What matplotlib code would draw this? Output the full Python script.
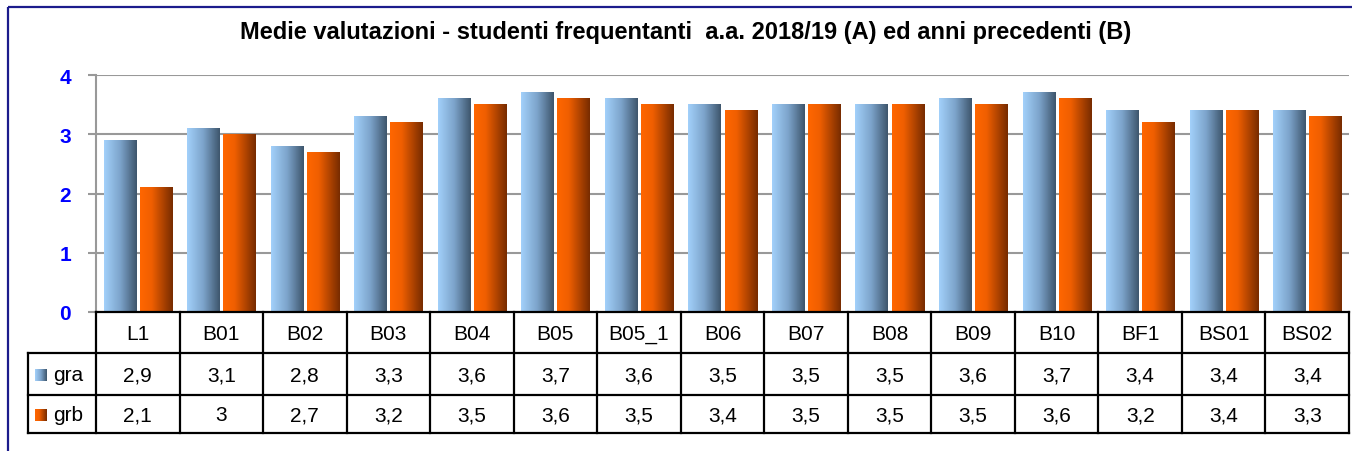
import numpy as np
import matplotlib
matplotlib.use("Agg")
import matplotlib.pyplot as plt
from matplotlib.colors import LinearSegmentedColormap
from matplotlib.patches import Rectangle

plt.rcParams['font.family'] = ['Liberation Sans', 'DejaVu Sans']

# data
categories = ['L1', 'B01', 'B02', 'B03', 'B04', 'B05', 'B05_1', 'B06',
              'B07', 'B08', 'B09', 'B10', 'BF1', 'BS01', 'BS02']
gra = [2.9, 3.1, 2.8, 3.3, 3.6, 3.7, 3.6, 3.5, 3.5, 3.5, 3.6, 3.7, 3.4, 3.4, 3.4]
grb = [2.1, 3.0, 2.7, 3.2, 3.5, 3.6, 3.5, 3.4, 3.5, 3.5, 3.5, 3.6, 3.2, 3.4, 3.3]
series_names = ['gra', 'grb']
title = 'Medie valutazioni - studenti frequentanti  a.a. 2018/19 (A) ed anni precedenti (B)'
yticks = [0, 1, 2, 3, 4]

cmap_a = LinearSegmentedColormap.from_list('a', ['#A2D0FA', '#7CA3CA', '#3E566D'])
cmap_b = LinearSegmentedColormap.from_list('b', [(0, '#FF6600'), (0.35, '#F05F00'), (1, '#782C00')])
grad = np.linspace(0, 1, 64).reshape(1, -1)

def fmt(v):
    s = f'{v:.1f}'.replace('.', ',')
    return s[:-2] if s.endswith(',0') else s

W, H = 1352, 452
fig = plt.figure(figsize=(W / 100, H / 100), dpi=100)

# pixel layout
px_left, px_right = 96, 1349
px_top, px_zero = 76, 313
ax = fig.add_axes([px_left / W, (H - px_zero) / H, (px_right - px_left) / W, (px_zero - px_top) / H])
ax.set_xlim(-0.5, len(categories) - 0.5)
ax.set_ylim(0, 4)
for s in ['top', 'right', 'bottom']:
    ax.spines[s].set_visible(False)
ax.spines['left'].set_color('#999999')
ax.spines['left'].set_linewidth(1.5)
ax.set_yticks(yticks)
ax.set_yticklabels([str(t) for t in yticks], color='#0000FF', fontsize=15, fontweight='bold')
ax.tick_params(axis='y', length=6, width=1.5, color='#999999', pad=12)
ax.set_xticks([])
for t in yticks[1:]:
    ax.axhline(t, color='#999999', lw=1.5, zorder=1)

x = np.arange(len(categories))
bw = 0.384
off = 0.024 + bw / 2
bars_a = ax.bar(x - off, gra, bw, facecolor='none', edgecolor='none')
bars_b = ax.bar(x + off, grb, bw, facecolor='none', edgecolor='none')
for bars, cm in ((bars_a, cmap_a), (bars_b, cmap_b)):
    for p in bars:
        x0, y0 = p.get_x(), p.get_y()
        ax.imshow(grad, cmap=cm, aspect='auto', interpolation='bilinear',
                  extent=(x0, x0 + p.get_width(), y0, y0 + p.get_height()), zorder=2)
ax.set_xlim(-0.5, len(categories) - 0.5)
ax.set_ylim(0, 4)

# overlay in pixel coords for title, table and frame
ov = fig.add_axes([0, 0, 1, 1])
ov.set_xlim(0, W)
ov.set_ylim(H, 0)
ov.axis('off')
ov.patch.set_alpha(0)

ov.add_patch(Rectangle((8, 8), W, H, fill=False, edgecolor='#1C1C8C', lw=1.6))
ov.text(686, 32, title, ha='center', va='center', fontsize=17, fontweight='bold')

tbl_left = 28
rows = [313, 354, 396, 434]
cw = (px_right - px_left) / len(categories)
lw = 1.6
ov.plot([px_left, px_right], [rows[0], rows[0]], color='black', lw=lw)
for r in rows[1:]:
    ov.plot([tbl_left, px_right], [r, r], color='black', lw=lw)
ov.plot([tbl_left, tbl_left], [rows[1], rows[3]], color='black', lw=lw)
for i in range(len(categories) + 1):
    ov.plot([px_left + i * cw] * 2, [rows[0], rows[3]], color='black', lw=lw)

fs = 15
for i, c in enumerate(categories):
    cx = px_left + (i + 0.5) * cw
    ov.text(cx, (rows[0] + rows[1]) / 2 + 1, c, ha='center', va='center', fontsize=fs)
    ov.text(cx, (rows[1] + rows[2]) / 2 + 1, fmt(gra[i]), ha='center', va='center', fontsize=fs)
    ov.text(cx, (rows[2] + rows[3]) / 2 + 1, fmt(grb[i]), ha='center', va='center', fontsize=fs)

for k, (name, cm) in enumerate(zip(series_names, (cmap_a, cmap_b))):
    cy = (rows[k + 1] + rows[k + 2]) / 2
    ov.imshow(grad, cmap=cm, aspect='auto', interpolation='bilinear',
              extent=(35, 47, cy + 7, cy - 5))
    ov.text(53, cy + 1, name, ha='left', va='center', fontsize=fs)
ov.set_xlim(0, W)
ov.set_ylim(H, 0)

fig.savefig('out.png', dpi=100)
